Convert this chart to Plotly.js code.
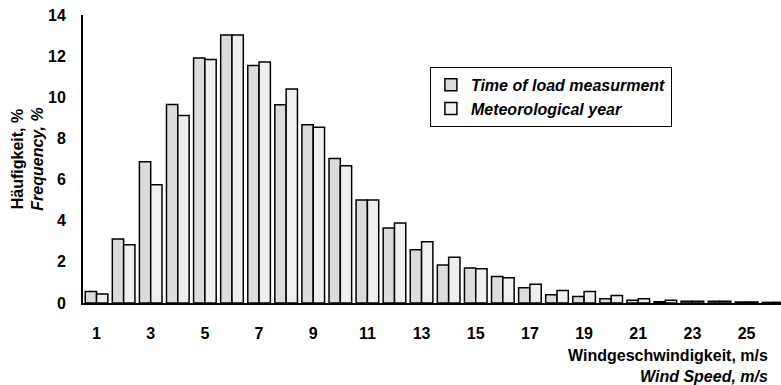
<!DOCTYPE html>
<html>
<head>
<meta charset="utf-8">
<script src="https://cdn.plot.ly/plotly-3.0.1.min.js"></script>
<style>html,body{margin:0;padding:0;background:#fff;}</style>
</head>
<body>
<div id="chart" style="width:781px;height:385px;"></div>
<script>
// Wind speed classes, m/s
const windSpeed = [1,2,3,4,5,6,7,8,9,10,11,12,13,14,15,16,17,18,19,20,21,22,23,24,25,26];
// Frequency, % - time of load measurement
const loadMeasurement = [0.56,3.11,6.87,9.65,11.91,13.03,11.55,9.64,8.67,7.02,5.01,3.65,2.59,1.85,1.70,1.29,0.74,0.40,0.32,0.21,0.13,0.06,0.08,0.08,0.05,0.03];
// Frequency, % - meteorological year
const meteoYear = [0.44,2.83,5.75,9.12,11.84,13.03,11.72,10.40,8.54,6.67,5.01,3.89,2.98,2.22,1.67,1.23,0.91,0.61,0.56,0.37,0.21,0.13,0.08,0.08,0.05,0.03];
const xTickVals = [1,3,5,7,9,11,13,15,17,19,21,23,25];
const xTickText = ['1','3','5','7','9','11','13','15','17','19','21','23','25'];
const yTickVals = [0,2,4,6,8,10,12,14];

const FONT = 'Liberation Sans, Arial, sans-serif';
const FS = 16;

const traces = [
  {
    type: 'bar', x: windSpeed, y: loadMeasurement,
    name: 'Time of load measurment',
    marker: {color: '#dcdcdc', line: {color: '#000', width: 1.5}}
  },
  {
    type: 'bar', x: windSpeed, y: meteoYear,
    name: 'Meteorological year',
    marker: {color: '#efefef', line: {color: '#000', width: 1.5}}
  }
];

const layout = {
  width: 781, height: 385,
  margin: {l: 83, r: 0, t: 15, b: 82},
  paper_bgcolor: '#fff', plot_bgcolor: '#fff',
  barmode: 'group', bargap: 0.165, bargroupgap: 0,
  font: {family: FONT, size: FS, color: '#000', weight: 'bold'},
  xaxis: {
    range: [0.5, 26.27],
    tickvals: xTickVals, ticktext: xTickText,
    ticks: '', showgrid: false, zeroline: false,
    showline: true, linecolor: '#000', linewidth: 2,
    ticklabelstandoff: 15,
    tickfont: {family: FONT, size: FS, weight: 'bold', color: '#000'}
  },
  yaxis: {
    range: [0, 14],
    tickvals: yTickVals,
    ticks: '', showgrid: false, zeroline: false,
    showline: true, linecolor: '#000', linewidth: 2,
    ticklabelstandoff: 12,
    tickfont: {family: FONT, size: FS, weight: 'bold', color: '#000'},
    title: {text: 'Häufigkeit, %<br><i>Frequency, %</i>', standoff: 0,
            font: {family: FONT, size: FS, weight: 'bold', color: '#000'}}
  },
  legend: {
    x: 0.497, y: 0.82, xanchor: 'left', yanchor: 'top',
    bgcolor: '#fff', bordercolor: '#000', borderwidth: 1,
    font: {family: FONT, size: FS, weight: 'bold', style: 'italic', color: '#000'},
    itemwidth: 30, tracegroupgap: 0
  },
  annotations: [
    {
      xref: 'paper', yref: 'paper', x: 0.984, y: -0.145, xanchor: 'right', yanchor: 'top',
      align: 'right', showarrow: false,
      text: 'Windgeschwindigkeit, m/s<br><i>Wind Speed, m/s</i>',
      font: {family: FONT, size: FS, weight: 'bold', color: '#000'}
    }
  ]
};

Plotly.newPlot('chart', traces, layout, {displayModeBar: false, staticPlot: true});
</script>
</body>
</html>
